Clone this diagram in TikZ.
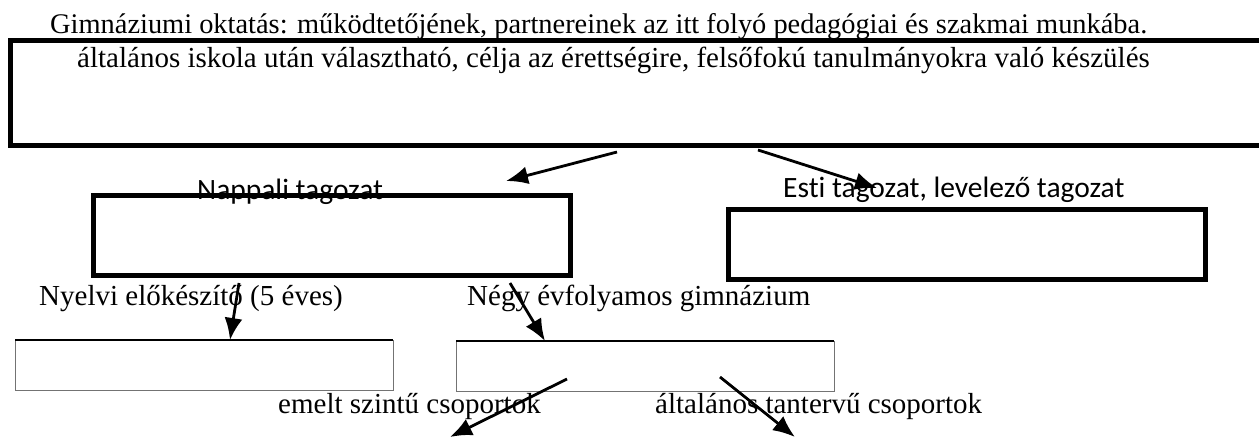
\documentclass[tikz,border=0pt]{standalone}
\usepackage{fontspec}
\setmainfont{Liberation Serif}
\newfontfamily\calibri[Ligatures=NoCommon]{Carlito}
\usetikzlibrary{arrows.meta}
\tikzset{frame/.style = {draw, line width=5pt, inner sep=0, outer sep=0, anchor=north west}}
\tikzset{thinframe/.style = {draw=black!55, line width=1pt, inner sep=0, outer sep=0, anchor=north west, minimum width=378pt, minimum height=50pt}}
\tikzset{serif/.style = {inner sep=0, anchor=base west, font=\fontsize{29}{33}\selectfont}}
\tikzset{sans/.style = {inner sep=0, anchor=base west, font=\calibri\fontsize{29.5}{34}\selectfont}}
\tikzset{arr/.style = {line width=2.8pt, -{Latex[length=22pt,width=18pt]}}}

\begin{document}
\begin{tikzpicture}[x=1pt, y=-1pt]
      \useasboundingbox (0, 0) rectangle (1259, 437);
      % top level
      \node [serif, font=\fontsize{28.4}{33}\selectfont] (title) at (50, 33) {Gimnáziumi oktatás: működtetőjének, partnereinek az itt folyó pedagógiai és szakmai munkába.};
      \node [frame, minimum width=1256pt, minimum height=105pt] (intro) at (10, 40) {};
      \node [serif] (introtext) at (77, 67) {általános iskola után választható, célja az érettségire, felsőfokú tanulmányokra való készülés};
      % tagozatok
      \node [sans] (nappalilabel) at (197, 199) {Nappali tagozat};
      \node [frame, minimum width=477pt, minimum height=80pt] (nappali) at (93, 195) {};
      \node [sans] (estilabel) at (783, 197) {Esti tagozat, levelező tagozat};
      \node [frame, minimum width=477pt, minimum height=70pt] (esti) at (728, 209) {};
      % kepzesi formak
      \node [serif] (nyelvilabel) at (39, 305) {Nyelvi előkészítő (5 éves)};
      \node [serif] (negylabel) at (467, 305) {Négy évfolyamos gimnázium};
      \node [thinframe] (nyelvi) at (15, 340) {};
      \node [thinframe] (negy) at (456, 341) {};
      \draw [line width=2.5pt] (nyelvi.north west) -- (nyelvi.north east);
      \draw [line width=2.5pt] (negy.north west) -- (negy.north east);
      \node [serif] (emeltlabel) at (278, 413) {emelt szintű csoportok};
      \node [serif] (altalanoslabel) at (655, 413) {általános tantervű csoportok};
      % nyilak
      \coordinate (toNappali) at (506, 181);
      \coordinate (toEsti) at (877, 188);
      \coordinate (toEmelt) at (450, 437);
      \coordinate (toAltalanos) at (795, 437);
      \draw [arr] ([xshift=607pt, yshift=-7pt]intro.south west) -- (toNappali);
      \draw [arr] ([xshift=748pt, yshift=-5pt]intro.south west) -- (toEsti);
      \draw [arr] ([xshift=224pt, yshift=57pt]nyelvi.north west) -- (nyelvi.north -| 230, 0);
      \draw [arr] ([xshift=54pt, yshift=58pt]negy.north west) -- (negy.north -| 545, 0);
      \draw [arr] ([xshift=111pt, yshift=-38pt]negy.north west) -- (toEmelt);
      \draw [arr] ([xshift=264pt, yshift=-36pt]negy.north west) -- (toAltalanos);
    \end{tikzpicture}
\end{document}
